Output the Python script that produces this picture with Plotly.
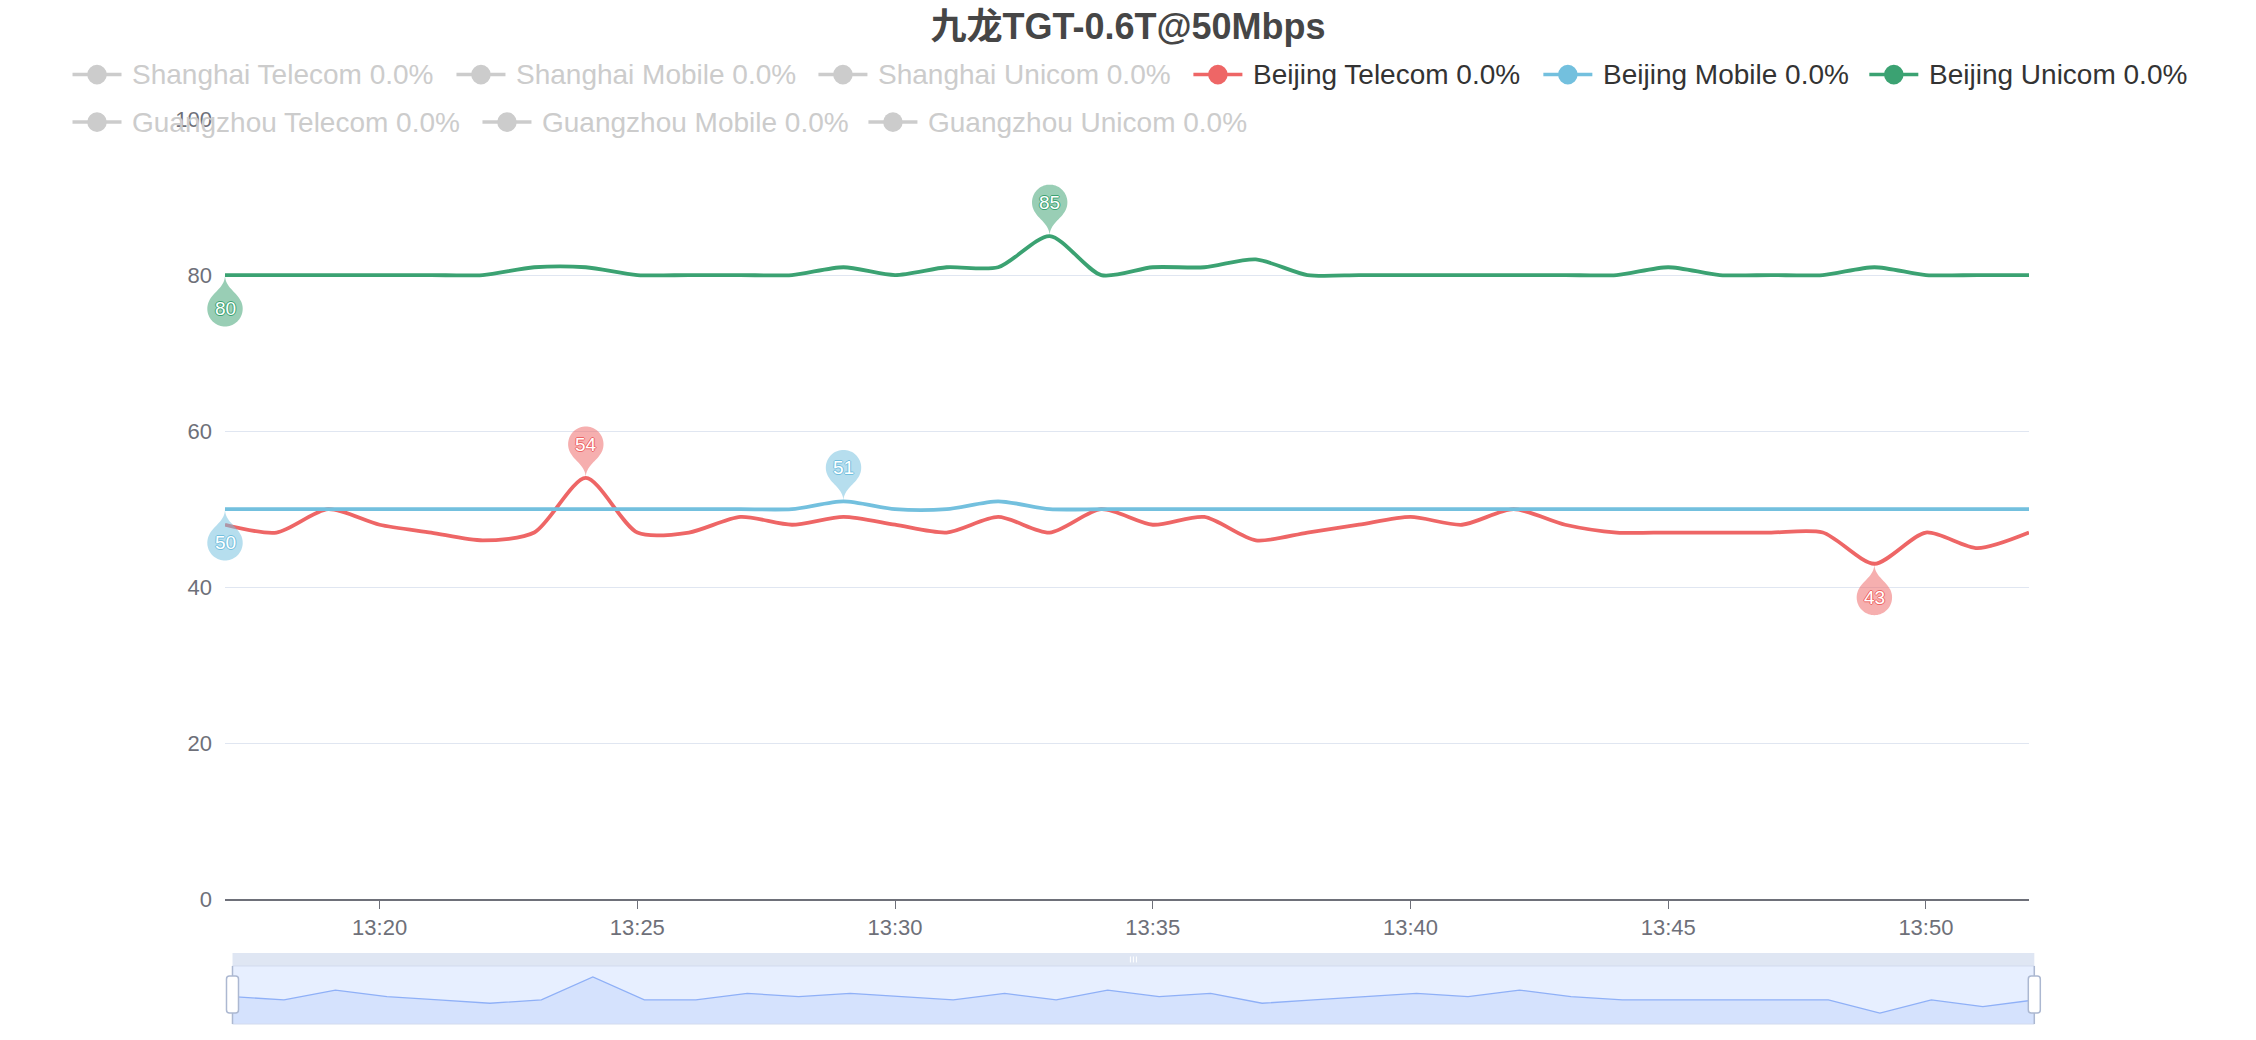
import math
from datetime import datetime, timedelta
import plotly.graph_objects as go

# ---------------- data ----------------
title_text = "九龙TGT-0.6T@50Mbps"
time_labels = ["13:17", "13:18", "13:19", "13:20", "13:21", "13:22", "13:23", "13:24",
               "13:25", "13:26", "13:27", "13:28", "13:29", "13:30", "13:31", "13:32",
               "13:33", "13:34", "13:35", "13:36", "13:37", "13:38", "13:39", "13:40",
               "13:41", "13:42", "13:43", "13:44", "13:45", "13:46", "13:47", "13:48",
               "13:49", "13:50", "13:51", "13:52"]
beijing_telecom = [48, 47, 50, 48, 47, 46, 47, 54, 47, 47, 49, 48, 49, 48, 47, 49, 47, 50,
                   48, 49, 46, 47, 48, 49, 48, 50, 48, 47, 47, 47, 47, 47, 43, 47, 45, 47]
beijing_mobile = [50, 50, 50, 50, 50, 50, 50, 50, 50, 50, 50, 50, 51, 50, 50, 51, 50, 50,
                  50, 50, 50, 50, 50, 50, 50, 50, 50, 50, 50, 50, 50, 50, 50, 50, 50, 50]
beijing_unicom = [80, 80, 80, 80, 80, 80, 81, 81, 80, 80, 80, 80, 81, 80, 81, 81, 85, 80,
                  81, 81, 82, 80, 80, 80, 80, 80, 80, 80, 81, 80, 80, 80, 81, 80, 80, 80]
legend_names = ["Shanghai Telecom", "Shanghai Mobile", "Shanghai Unicom",
                "Beijing Telecom", "Beijing Mobile", "Beijing Unicom",
                "Guangzhou Telecom", "Guangzhou Mobile", "Guangzhou Unicom"]
legend_loss = [0.0, 0.0, 0.0, 0.0, 0.0, 0.0, 0.0, 0.0, 0.0]
legend_active = [False, False, False, True, True, True, False, False, False]
y_ticks = [0, 20, 40, 60, 80, 100]
x_tick_labels = ["13:20", "13:25", "13:30", "13:35", "13:40", "13:45", "13:50"]

# ---------------- styles / layout ----------------
DAY = "2024-01-01 "
palette = ["#5470c6", "#91cc75", "#fac858", "#ee6666", "#73c0de", "#3ba272",
           "#fc8452", "#9a60b4", "#ea7ccc"]
FONT = "Liberation Sans, Arial, Helvetica, Noto Sans CJK SC, sans-serif"
W, H = 2256, 1040
PIN_PAD = 40.0                  # extra room so edge pins are not clipped
MAIN_L, MAIN_R = 224.5, 2028.7  # main grid left / right (px)
MAIN_T, MAIN_B = 119.4, 899.3   # main grid top / bottom (px)
PL, PR = MAIN_L - PIN_PAD, MAIN_R + PIN_PAD   # plot area horizontal extent (px)
PT, PB = MAIN_T, 1024.0         # plot area vertical extent (px)
SL_L, SL_R = 232.0, 2034.0      # slider
SL_TOP, SL_BOX_TOP, SL_BOT = 953.0, 966.0, 1024.0
LEG_ROWS_Y = [75.0, 122.5]
LEG_ICON_X = [72, 456, 818, 1193, 1543, 1869, 72, 482, 868]
LEG_ROW = [0, 0, 0, 0, 0, 0, 1, 1, 1]


def px_x(px):
    return (px - PL) / (PR - PL)


def px_y(py):
    return (PB - py) / (PB - PT)


xs = [DAY + t + ":00" for t in time_labels]
x_tickvals = [DAY + t + ":00" for t in x_tick_labels]

# range of the (invisible) pin axis: same scale as main x axis, padded by PIN_PAD px
t_first = datetime.strptime(xs[0], "%Y-%m-%d %H:%M:%S")
t_last = datetime.strptime(xs[-1], "%Y-%m-%d %H:%M:%S")
sec_per_px = (t_last - t_first).total_seconds() / (MAIN_R - MAIN_L)
pad_t = timedelta(seconds=sec_per_px * PIN_PAD)
x3_range = [(t_first - pad_t).strftime("%Y-%m-%d %H:%M:%S.%f"),
            (t_last + pad_t).strftime("%Y-%m-%d %H:%M:%S.%f")]

fig = go.Figure()

series = [("Beijing Telecom", beijing_telecom, palette[3]),
          ("Beijing Mobile", beijing_mobile, palette[4]),
          ("Beijing Unicom", beijing_unicom, palette[5])]

for name, vals, col in series:
    fig.add_trace(go.Scatter(x=xs, y=vals, name=name, mode="lines",
                             line=dict(color=col, width=3.8, shape="spline", smoothing=0.75),
                             showlegend=False, hoverinfo="x+y+name"))

# slider data shadow (uses first visible series)
shadow = beijing_telecom
s_min, s_max = min(shadow), max(shadow)
s_pad = (s_max - s_min) * 0.3
fig.add_trace(go.Scatter(x=xs, y=shadow, xaxis="x2", yaxis="y2", mode="lines",
                         line=dict(color="#8fb0f7", width=1.3), fill="tozeroy",
                         fillcolor="rgba(143,176,247,0.2)", showlegend=False,
                         hoverinfo="skip"))

# anchor trace for the pin subplot (invisible)
fig.add_trace(go.Scatter(x=xs[:1], y=beijing_unicom[:1], xaxis="x3", yaxis="y3",
                         mode="markers", marker=dict(opacity=0), showlegend=False,
                         hoverinfo="skip"))


def hex_rgba(h, a):
    h = h.lstrip("#")
    return "rgba(%d,%d,%d,%s)" % (int(h[0:2], 16), int(h[2:4], 16), int(h[4:6], 16), a)


def pin_path(S, flip):
    w = 0.6 * S
    r = w / 2
    h = S
    dy = r * r / (h - r)
    C = h - r - dy
    a = math.asin(dy / r)
    dx = math.cos(a) * r
    tx, ty = math.sin(a), math.cos(a)
    cp1, cp2 = r * 0.6, r * 0.7
    sg = -1 if flip else 1
    pts = []
    n = 48
    for k in range(n + 1):
        th = (math.pi + a) - (math.pi + 2 * a) * k / n
        pts.append((r * math.cos(th), sg * (C + r * math.sin(th))))
    p = "M %.2f,%.2f " % pts[0] + " ".join("L %.2f,%.2f" % q for q in pts[1:])
    p += " C %.2f,%.2f %.2f,%.2f 0,0" % (dx - tx * cp1, sg * (C - dy - ty * cp1), 0, sg * cp2)
    p += " C %.2f,%.2f %.2f,%.2f %.2f,%.2f Z" % (0, sg * cp2, -dx + tx * cp1,
                                                 sg * (C - dy - ty * cp1), -dx, sg * (C - dy))
    return p, C


shapes = []
annotations = []
PIN_SIZE = 59
for name, vals, col in series:
    for kind in ("max", "min"):
        v = max(vals) if kind == "max" else min(vals)
        i = vals.index(v)
        path, C = pin_path(PIN_SIZE, kind == "min")
        shapes.append(dict(type="path", xref="x3", yref="y3", xsizemode="pixel",
                           ysizemode="pixel", xanchor=xs[i], yanchor=v, path=path,
                           fillcolor=hex_rgba(col, 0.52), line=dict(width=0), layer="above"))
        annotations.append(dict(x=xs[i], y=v, xref="x3", yref="y3", text=str(v),
                                showarrow=False, xanchor="center", yanchor="middle",
                                yshift=C if kind == "max" else -C,
                                font=dict(family=FONT, size=19, color="#ffffff",
                                          shadow="1px 0 %s, -1px 0 %s, 0 1px %s, 0 -1px %s" % (col, col, col, col))))

# legend (custom drawn)
for k, nm in enumerate(legend_names):
    col = palette[k] if legend_active[k] else "#cccccc"
    tcol = "#333333" if legend_active[k] else "#cccccc"
    x0 = LEG_ICON_X[k]
    yy = px_y(LEG_ROWS_Y[LEG_ROW[k]])
    shapes.append(dict(type="line", xref="paper", yref="paper", x0=px_x(x0), x1=px_x(x0 + 49),
                       y0=yy, y1=yy, line=dict(color=col, width=3.5), layer="above"))
    shapes.append(dict(type="circle", xref="paper", yref="paper", xsizemode="pixel",
                       ysizemode="pixel", xanchor=px_x(x0 + 24.5), yanchor=yy,
                       x0=-9.8, x1=9.8, y0=-9.8, y1=9.8, fillcolor=col,
                       line=dict(width=0), layer="above"))
    annotations.append(dict(x=px_x(x0 + 57.5), y=yy, xref="paper", yref="paper",
                            text="%s %.1f%%" % (nm, legend_loss[k]), showarrow=False,
                            xanchor="left", yanchor="middle",
                            font=dict(family=FONT, size=28, color=tcol)))

# slider decorations
shapes += [
    dict(type="rect", xref="paper", yref="paper", x0=px_x(SL_L), x1=px_x(SL_R),
         y0=px_y(SL_BOT), y1=px_y(SL_BOX_TOP), fillcolor="rgba(135,175,255,0.2)",
         line=dict(width=0), layer="below"),
    dict(type="rect", xref="paper", yref="paper", x0=px_x(SL_L), x1=px_x(SL_R),
         y0=px_y(SL_BOX_TOP), y1=px_y(SL_TOP), fillcolor="rgba(210,219,238,0.7)",
         line=dict(width=0), layer="below"),
    dict(type="rect", xref="paper", yref="paper", x0=px_x(SL_L), x1=px_x(SL_R),
         y0=px_y(SL_BOT), y1=px_y(SL_BOX_TOP), fillcolor="rgba(0,0,0,0)",
         line=dict(color="#d2dbee", width=1), layer="above"),
]
mid = (SL_L + SL_R) / 2
for dxg in (-3, 0, 3):
    shapes.append(dict(type="line", xref="paper", yref="paper", x0=px_x(mid + dxg),
                       x1=px_x(mid + dxg), y0=px_y(956.5), y1=px_y(962.5),
                       line=dict(color="#ffffff", width=1), layer="above"))
for hx in (SL_L, SL_R):
    shapes.append(dict(type="line", xref="paper", yref="paper", x0=px_x(hx), x1=px_x(hx),
                       y0=px_y(SL_BOT), y1=px_y(SL_BOX_TOP),
                       line=dict(color="#acb8d1", width=1.5), layer="above"))
    hw, ht, hb, rr = 6.0, 976.0, 1013.0, 3.0
    hh = hb - ht
    hp = ("M %.1f,%.1f L %.1f,%.1f Q %.1f,%.1f %.1f,%.1f L %.1f,%.1f Q %.1f,%.1f %.1f,%.1f "
          "L %.1f,%.1f Q %.1f,%.1f %.1f,%.1f L %.1f,%.1f Q %.1f,%.1f %.1f,%.1f Z") % (
        -hw + rr, hh / 2, hw - rr, hh / 2, hw, hh / 2, hw, hh / 2 - rr,
        hw, -hh / 2 + rr, hw, -hh / 2, hw - rr, -hh / 2,
        -hw + rr, -hh / 2, -hw, -hh / 2, -hw, -hh / 2 + rr,
        -hw, hh / 2 - rr, -hw, hh / 2, -hw + rr, hh / 2)
    shapes.append(dict(type="path", xref="paper", yref="paper", xsizemode="pixel",
                       ysizemode="pixel", xanchor=px_x(hx), yanchor=px_y((ht + hb) / 2),
                       path=hp, fillcolor="#ffffff", line=dict(color="#acb8d1", width=1.5),
                       layer="above"))

fig.update_layout(
    width=W, height=H,
    margin=dict(l=PL, r=W - PR, t=PT, b=H - PB, pad=0, autoexpand=False),
    paper_bgcolor="#ffffff", plot_bgcolor="rgba(0,0,0,0)",
    font=dict(family=FONT, color="#6e7079"),
    title=dict(text=title_text, x=0.5, xref="container", xanchor="center",
               y=1 - 26 / H, yref="container", yanchor="middle", automargin=False,
               font=dict(family=FONT, size=36, color="#464646", weight="bold")),
    showlegend=False,
    xaxis=dict(domain=[px_x(MAIN_L), px_x(MAIN_R)], type="date", range=[xs[0], xs[-1]],
               tickvals=x_tickvals, ticktext=x_tick_labels, ticks="outside", ticklen=8,
               tickwidth=1.4, tickcolor="#6e7079", showline=True, linecolor="#6e7079",
               linewidth=1.6, showgrid=False, zeroline=False, automargin=False,
               tickfont=dict(family=FONT, size=22, color="#6e7079"), anchor="y",
               ticklabelstandoff=0),
    yaxis=dict(domain=[px_y(MAIN_B), 1], range=[0, 100], tickvals=y_ticks,
               gridcolor="#e0e6f1", gridwidth=1.4, showline=False, zeroline=False,
               tickfont=dict(family=FONT, size=22, color="#6e7079"), ticks="",
               ticklabelstandoff=12, anchor="x", automargin=False),
    xaxis2=dict(domain=[px_x(SL_L), px_x(SL_R)], range=[xs[0], xs[-1]], type="date",
                visible=False, anchor="y2", fixedrange=True, automargin=False),
    yaxis2=dict(domain=[0, px_y(SL_BOX_TOP)], range=[s_min - s_pad, s_max + s_pad],
                visible=False, anchor="x2", fixedrange=True, automargin=False),
    xaxis3=dict(domain=[px_x(PL), px_x(PR)], range=x3_range, type="date",
                visible=False, anchor="y3", fixedrange=True, automargin=False),
    yaxis3=dict(domain=[px_y(MAIN_B), 1], range=[0, 100], visible=False, anchor="x3",
                fixedrange=True, automargin=False),
    shapes=shapes, annotations=annotations,
    hovermode="closest",
)

fig.write_html("out.html", config={"displayModeBar": False},
               post_script="document.body.style.margin='0';document.body.style.overflow='hidden';")
